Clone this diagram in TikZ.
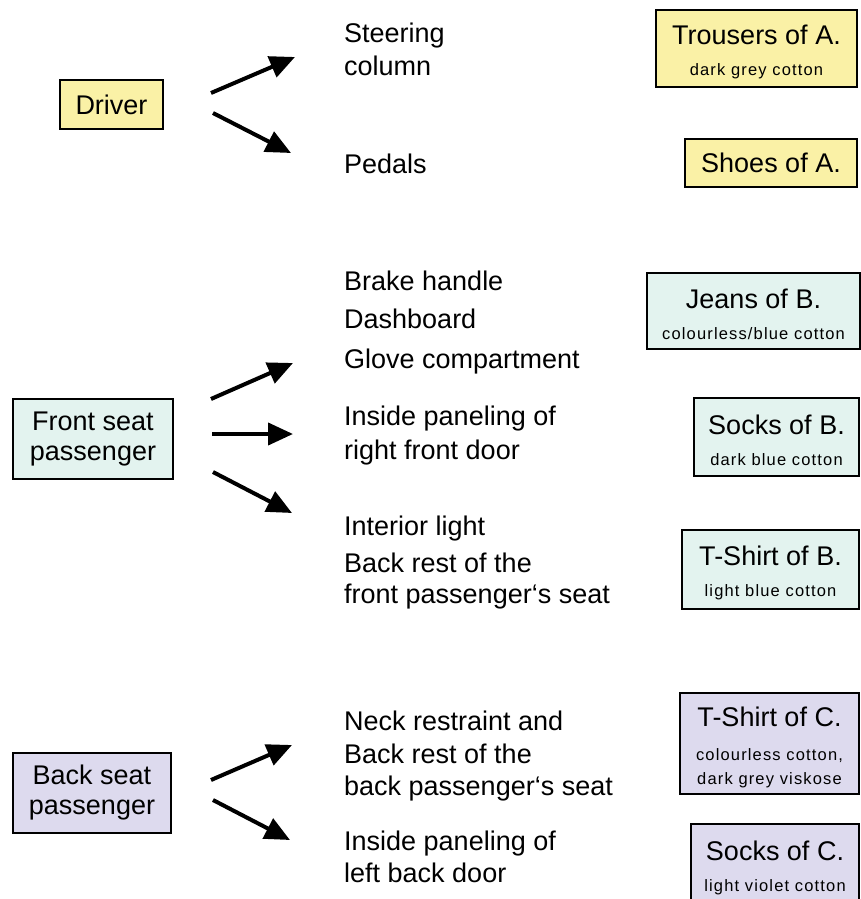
\documentclass[tikz,border=0pt]{standalone}
\usepackage{fontspec}
\setmainfont{Liberation Sans}
\newfontfamily\notefont[LetterSpace=7]{Liberation Sans}
\usetikzlibrary{arrows.meta}

\definecolor{driverfill}{HTML}{FAF1A6}
\definecolor{frontfill}{HTML}{E3F3EF}
\definecolor{backfill}{HTML}{DDDAEE}

\newcommand{\note}{\notefont\fontsize{16.5}{24}\selectfont}
\newcommand{\ctitle}[1]{\rule{0pt}{27pt}#1}

\tikzset{
  person/.style={draw, line width=2pt, inner sep=0pt, align=center,
    font=\fontsize{27}{30}\selectfont},
  cloth/.style={draw, line width=2pt, inner sep=0pt, align=center,
    font=\fontsize{27}{31}\selectfont},
  part/.style={anchor=base west, inner sep=0pt,
    font=\fontsize{27}{31}\selectfont},
  pointer/.style={line width=4pt, -{Triangle[length=25pt,width=22pt]}}
}

\begin{document}
\begin{tikzpicture}[x=1pt,y=-1pt]
        \useasboundingbox (0,0) rectangle (861,899);
        \clip (0,0) rectangle (861,899);

        % persons
        \node[person, fill=driverfill, minimum width=103, minimum height=49] (driver) at (111.5, 104.5) {Driver};
        \node[person, fill=frontfill, minimum width=160, minimum height=80] (front) at (93, 439) {Front seat\\passenger};
        \node[person, fill=backfill, minimum width=158, minimum height=80] (back) at (92, 793) {Back seat\\passenger};

        % car parts
        \node[part] (steering) at (344, 43) {Steering};
        \node[part] (column) at (344, 75) {column};
        \node[part] (pedals) at (344, 173) {Pedals};

        \node[part] (brake) at (344, 290) {Brake handle};
        \node[part] (dash) at (344, 328) {Dashboard};
        \node[part] (glove) at (344, 368) {Glove compartment};
        \node[part] (rfdoor) at (344, 425) {Inside paneling of};
        \node[part] (rfdoor') at (344, 459) {right front door};
        \node[part] (light) at (344, 535) {Interior light};
        \node[part] (frest) at (344, 572) {Back rest of the};
        \node[part] (frest') at (344, 603) {front passenger‘s seat};

        \node[part] (neck) at (344, 730) {Neck restraint and};
        \node[part] (brest) at (344, 763) {Back rest of the};
        \node[part] (brest') at (344, 795) {back passenger‘s seat};
        \node[part] (lbdoor) at (344, 850) {Inside paneling of};
        \node[part] (lbdoor') at (344, 882) {left back door};

        % clothes
        \node[cloth, fill=driverfill, minimum width=201, minimum height=77] (trousers) at (756.5, 48.5) {\ctitle{Trousers of A.}\\\note dark grey cotton};
        \node[cloth, fill=driverfill, minimum width=172, minimum height=48] (shoes) at (771, 163) {Shoes of A.};

        \node[cloth, fill=frontfill, minimum width=213, minimum height=76] (jeans) at (753.5, 311) {\ctitle{Jeans of B.}\\\note colourless/blue cotton};
        \node[cloth, fill=frontfill, minimum width=165, minimum height=78] (socksB) at (776.5, 437) {\ctitle{Socks of B.}\\\note dark blue cotton};
        \node[cloth, fill=frontfill, minimum width=177, minimum height=79] (shirtB) at (770.5, 569.5) {\ctitle{T-Shirt of B.}\\\note light blue cotton};

        \node[cloth, fill=backfill, minimum width=179, minimum height=101] (shirtC) at (769.5, 743.5) {\ctitle{T-Shirt of C.}\\[3pt]\note colourless cotton,\\[-7pt]\note dark grey viskose};
        \node[cloth, fill=backfill, minimum width=168, minimum height=80] (socksC) at (775, 864) {\ctitle{Socks of C.}\\\note light violet cotton};

        % arrows
        \coordinate (d1) at (211, 93);   \coordinate (d1') at (295, 57);
        \coordinate (d2) at (213, 113);  \coordinate (d2') at (291, 153);
        \coordinate (f1) at (211, 399);  \coordinate (f1') at (293, 363);
        \coordinate (f2) at (212, 434);  \coordinate (f2') at (293, 434);
        \coordinate (f3) at (213, 472);  \coordinate (f3') at (292, 513);
        \coordinate (b1) at (211, 780);  \coordinate (b1') at (292, 745);
        \coordinate (b2) at (213, 800);  \coordinate (b2') at (290, 840);

        \draw[pointer] (d1) to (d1');
        \draw[pointer] (d2) to (d2');
        \draw[pointer] (f1) to (f1');
        \draw[pointer] (f2) to (f2');
        \draw[pointer] (f3) to (f3');
        \draw[pointer] (b1) to (b1');
        \draw[pointer] (b2) to (b2');
\end{tikzpicture}
\end{document}
